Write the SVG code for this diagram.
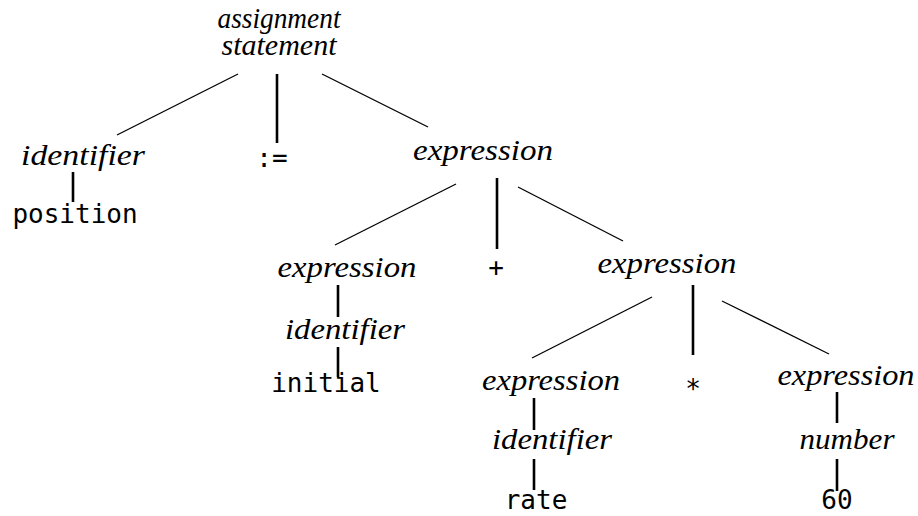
<svg xmlns="http://www.w3.org/2000/svg" width="918" height="516" viewBox="0 0 918 516">
<style>
.nt{font-family:"Liberation Serif","DejaVu Serif",serif;font-style:italic;font-size:30px;fill:#000;text-anchor:middle}
.t{font-family:"DejaVu Sans Mono","Liberation Mono",monospace;font-size:26px;fill:#000;text-anchor:middle}
.d{stroke:#000;stroke-width:1.3;fill:none}
.v{stroke:#000;stroke-width:2.6;fill:none}
</style>
<rect width="918" height="516" fill="#fff"/>
<g id="connectors">
<line class="d" x1="238" y1="74" x2="117" y2="135"/>
<line class="v" x1="277" y1="74" x2="277" y2="143"/>
<line class="d" x1="322" y1="74" x2="428" y2="127"/>
<line class="v" x1="73" y1="172" x2="73" y2="202"/>
<line class="d" x1="456" y1="184" x2="335" y2="245"/>
<line class="v" x1="497" y1="178" x2="497" y2="249"/>
<line class="d" x1="518" y1="187" x2="623" y2="241"/>
<line class="v" x1="338" y1="285" x2="338" y2="317"/>
<line class="v" x1="338" y1="347" x2="338" y2="377"/>
<line class="d" x1="652" y1="297" x2="532" y2="358"/>
<line class="v" x1="693" y1="285" x2="693" y2="355"/>
<line class="d" x1="722" y1="301" x2="829" y2="354"/>
<line class="v" x1="534" y1="398" x2="534" y2="430"/>
<line class="v" x1="534" y1="459" x2="534" y2="490"/>
<line class="v" x1="837" y1="392" x2="837" y2="423"/>
<line class="v" x1="837" y1="459" x2="837" y2="491"/>
</g>
<g id="n-assign"><text class="nt"><tspan x="279" y="28" textLength="123" lengthAdjust="spacingAndGlyphs">assignment</tspan><tspan x="279" y="55" textLength="115" lengthAdjust="spacingAndGlyphs">statement</tspan></text></g>
<g id="n-id1"><text class="nt" x="83" y="165" textLength="124" lengthAdjust="spacingAndGlyphs">identifier</text></g>
<g id="n-position"><text class="t" x="75" y="223">position</text></g>
<g id="n-assignop"><text class="t" x="272" y="167">:=</text></g>
<g id="n-expr1"><text class="nt" x="483" y="160" textLength="140" lengthAdjust="spacingAndGlyphs">expression</text></g>
<g id="n-expr2"><text class="nt" x="347" y="277" textLength="139" lengthAdjust="spacingAndGlyphs">expression</text></g>
<g id="n-plus"><text class="t" x="496" y="276">+</text></g>
<g id="n-expr3"><text class="nt" x="667" y="273" textLength="139" lengthAdjust="spacingAndGlyphs">expression</text></g>
<g id="n-id2"><text class="nt" x="345" y="339" textLength="120" lengthAdjust="spacingAndGlyphs">identifier</text></g>
<g id="n-initial"><text class="t" x="326" y="392">initial</text></g>
<g id="n-expr4"><text class="nt" x="551" y="390" textLength="138" lengthAdjust="spacingAndGlyphs">expression</text></g>
<g id="n-star"><text class="t" x="693" y="398">*</text></g>
<g id="n-expr5"><text class="nt" x="846" y="385" textLength="137" lengthAdjust="spacingAndGlyphs">expression</text></g>
<g id="n-id3"><text class="nt" x="552" y="449" textLength="120" lengthAdjust="spacingAndGlyphs">identifier</text></g>
<g id="n-rate"><text class="t" x="536" y="509">rate</text></g>
<g id="n-number"><text class="nt" x="847" y="449" textLength="95" lengthAdjust="spacingAndGlyphs">number</text></g>
<g id="n-60"><text class="t" x="837" y="509">60</text></g>
</svg>
